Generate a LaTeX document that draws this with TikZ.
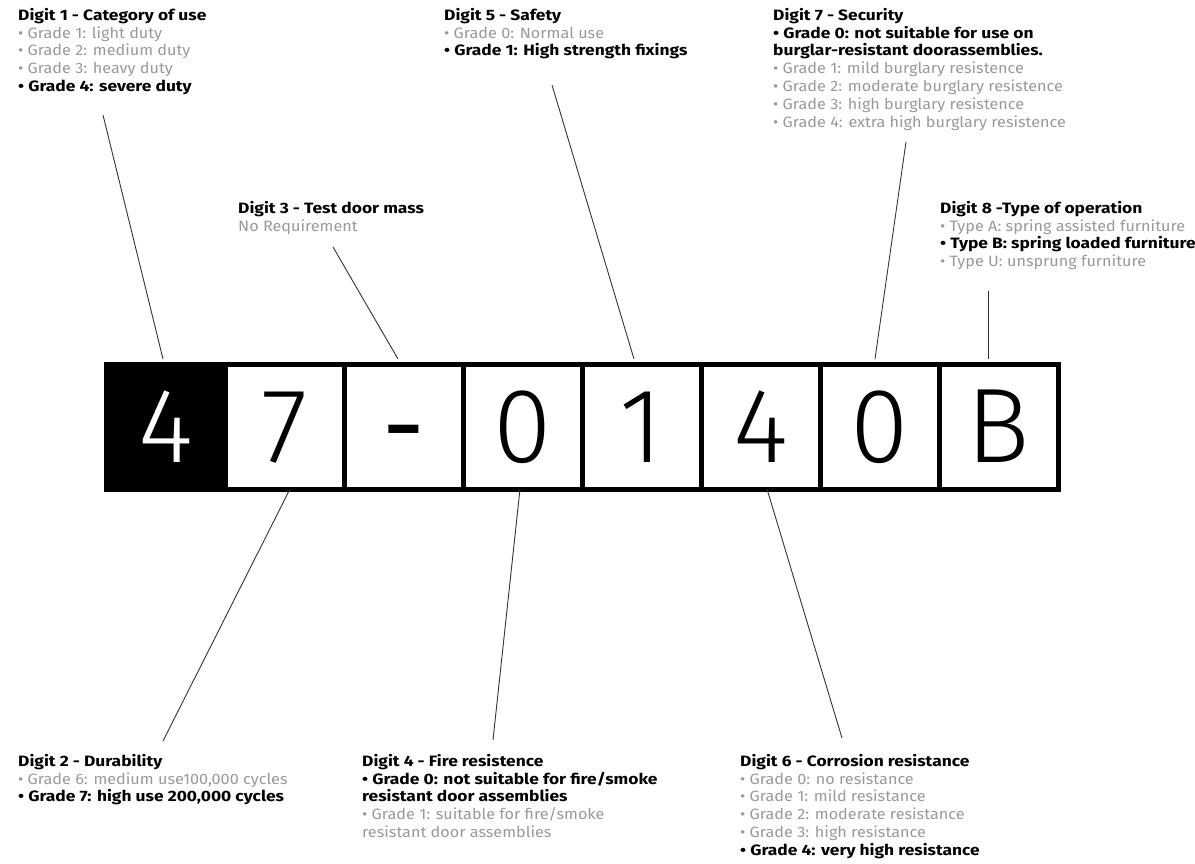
\documentclass[tikz,border=0pt]{standalone}
\usepackage{fontspec}
\setmainfont{Fira Sans}[FakeStretch=1.08, BoldFeatures={FakeStretch=1.16}]
\newfontfamily\digitfont{Fira Sans Light}
\newfontfamily\dashfont{Fira Sans}
\definecolor{lightgray}{HTML}{999999}
\definecolor{linecol}{HTML}{333333}
\newcommand{\gl}[1]{\textcolor{lightgray}{#1}}
\tikzset{
  blk/.style={anchor=north west, align=left, inner sep=0pt, font=\fontsize{15}{17.8}\selectfont},
  cell/.style={draw=black, line width=5pt, minimum width=119pt, minimum height=125pt, inner sep=0pt, anchor=north west, text height=72pt, text depth=0pt, font=\digitfont\fontsize{106}{106}\selectfont},
  conn/.style={draw=linecol, line width=0.9pt}
}
\begin{document}
\begin{tikzpicture}[x=1pt,y=-1pt]
\useasboundingbox (0,0) rectangle (1195,863);
% cells
\node[cell, fill=black, text=white] (c1) at (103.5,361.5) {4};
\node[cell] (c2) at (222.5,361.5) {7};
\node[cell] (c3) at (341.5,361.5) {\dashfont -};
\node[cell] (c4) at (460.5,361.5) {0};
\node[cell] (c5) at (579.5,361.5) {1};
\node[cell] (c6) at (698.5,361.5) {4};
\node[cell] (c7) at (817.5,361.5) {0};
\node[cell] (c8) at (936.5,361.5) {B};
% text blocks
\node[blk] (d1) at (18,8) {\textbf{Digit 1 - Category of use}\\
\gl{• Grade 1: light duty}\\
\gl{• Grade 2: medium duty}\\
\gl{• Grade 3: heavy duty}\\
\textbf{• Grade 4: severe duty}};
\node[blk] (d5) at (444,8) {\textbf{Digit 5 - Safety}\\
\gl{• Grade 0: Normal use}\\
\textbf{• Grade 1: High strength fixings}};
\node[blk] (d7) at (773,8) {\textbf{Digit 7 - Security}\\
\textbf{• Grade 0: not suitable for use on}\\
\textbf{burglar-resistant doorassemblies.}\\
\gl{• Grade 1: mild burglary resistence}\\
\gl{• Grade 2: moderate burglary resistence}\\
\gl{• Grade 3: high burglary resistence}\\
\gl{• Grade 4: extra high burglary resistence}};
\node[blk] (d3) at (238,201) {\textbf{Digit 3 - Test door mass}\\
\gl{No Requirement}};
\node[blk] (d8) at (940,201) {\textbf{Digit 8 -Type of operation}\\
\gl{• Type A: spring assisted furniture}\\
\textbf{• Type B: spring loaded furniture}\\
\gl{• Type U: unsprung furniture}};
\node[blk] (d2) at (18,754) {\textbf{Digit 2 - Durability}\\
\gl{• Grade 6: medium use100,000 cycles}\\
\textbf{• Grade 7: high use 200,000 cycles}};
\node[blk] (d4) at (362,754) {\textbf{Digit 4 - Fire resistence}\\
\textbf{• Grade 0: not suitable for fire/smoke}\\
\textbf{resistant door assemblies}\\
\gl{• Grade 1: suitable for fire/smoke}\\
\gl{resistant door assemblies}};
\node[blk] (d6) at (740,754) {\textbf{Digit 6 - Corrosion resistance}\\
\gl{• Grade 0: no resistance}\\
\gl{• Grade 1: mild resistance}\\
\gl{• Grade 2: moderate resistance}\\
\gl{• Grade 3: high resistance}\\
\textbf{• Grade 4: very high resistance}};
% connector ends
\coordinate (e1) at (103,115);
\coordinate (f1) at (163,359);
\coordinate (e3) at (333,247);
\coordinate (f3) at (398,359);
\coordinate (e5) at (552,85);
\coordinate (f5) at (634,359);
\coordinate (e7) at (906,142);
\coordinate (f7) at (875,359);
\coordinate (e8) at (988,291);
\coordinate (f8) at (988,359);
\coordinate (e2) at (163,741);
\coordinate (f2) at (290,489);
\coordinate (e4) at (493,740);
\coordinate (f4) at (520,489);
\coordinate (e6) at (842,738);
\coordinate (f6) at (767,489);
\foreach \i in {1,...,8} {\draw[conn] (e\i) -- (f\i);}
\end{tikzpicture}
\end{document}
